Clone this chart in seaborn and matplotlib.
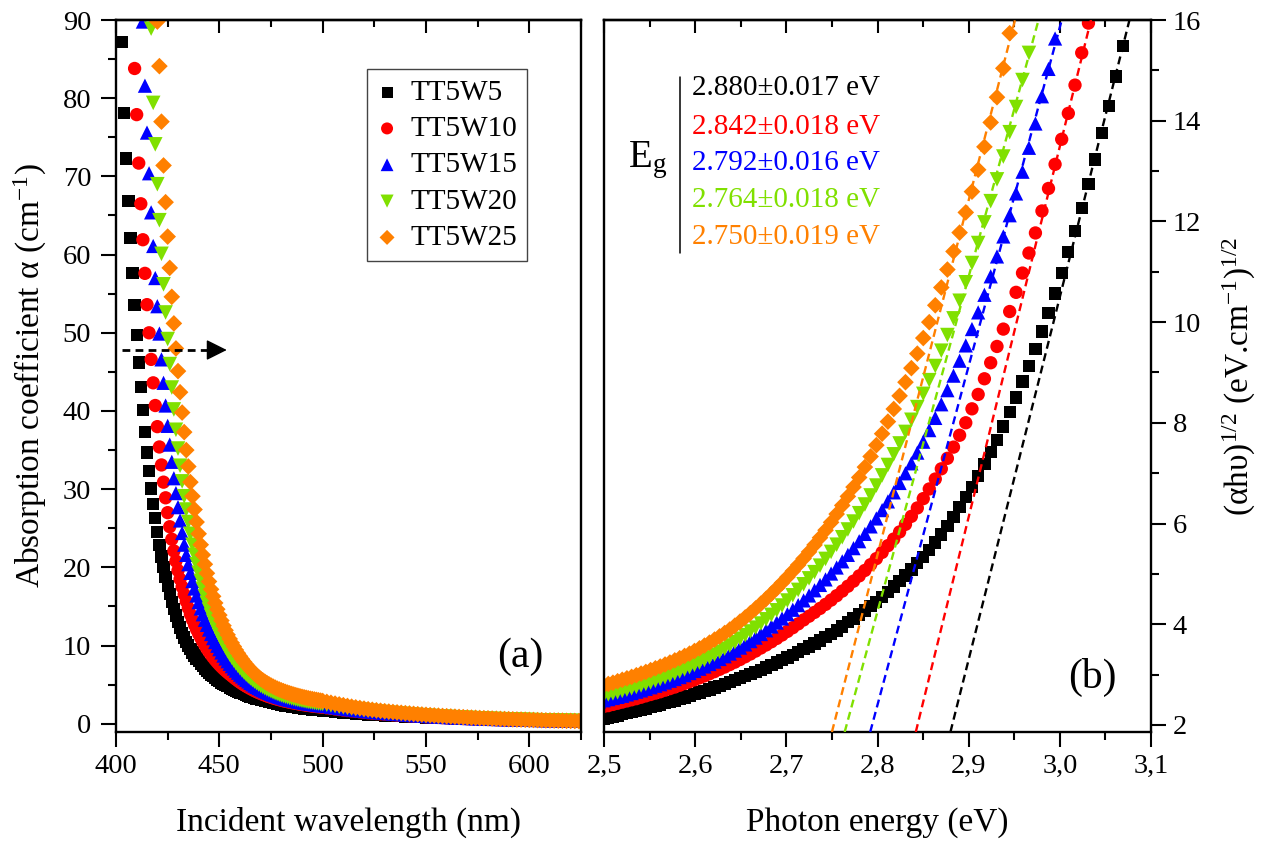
import numpy as np
import pandas as pd
import matplotlib
matplotlib.use("Agg")
import matplotlib.pyplot as plt
from matplotlib.ticker import MultipleLocator, FuncFormatter
import seaborn as sns

# Wavelength grid (nm): 1 nm steps up to 500 nm, 2 nm steps in the long tail.
wavelength_nm = list(range(400, 501)) + list(range(502, 625, 2))

samples = ["TT5W5", "TT5W10", "TT5W15", "TT5W20", "TT5W25"]
colors = ["#000000", "#FF0000", "#0000FF", "#80E000", "#FF8000"]
markers = ["s", "o", "^", "v", "D"]
marker_area = [78, 92, 105, 110, 72]

# Absorption coefficient alpha (cm^-1); each list ends at 624 nm.
alpha_tt5w5 = [
    87.2, 78.1, 72.3, 66.9, 62.1, 57.6, 53.6, 49.7, 46.2, 43.1,
    40.1, 37.3, 34.7, 32.3, 30.1, 28.1, 26.3, 24.5, 22.9, 21.4,
    20.05, 18.8, 17.65, 16.6, 15.6, 14.7, 13.85, 13.05, 12.3, 11.65,
    11.05, 10.5, 10.0, 9.55, 9.12, 8.72, 8.35, 8.0, 7.67, 7.36,
    7.07, 6.8, 6.55, 6.32, 6.1, 5.89, 5.66, 5.45, 5.27, 5.1,
    4.94, 4.79, 4.65, 4.51, 4.38, 4.25, 4.13, 4.01, 3.9, 3.79,
    3.69, 3.59, 3.5, 3.41, 3.32, 3.24, 3.16, 3.08, 3.01, 2.94,
    2.87, 2.8, 2.74, 2.68, 2.62, 2.56, 2.5, 2.45, 2.4, 2.35,
    2.3, 2.25, 2.21, 2.17, 2.13, 2.09, 2.05, 2.01, 1.97, 1.94,
    1.9, 1.87, 1.84, 1.81, 1.78, 1.75, 1.72, 1.69,
    1.64, 1.59, 1.54, 1.49, 1.44, 1.40, 1.36, 1.31, 1.27, 1.24,
    1.20, 1.16, 1.13, 1.10, 1.07, 1.04, 1.01, 0.98, 0.96, 0.93,
    0.91, 0.88, 0.86, 0.84, 0.82, 0.80, 0.78, 0.76, 0.74, 0.72,
    0.70, 0.68, 0.66, 0.65, 0.63, 0.62, 0.60, 0.59, 0.57, 0.56,
    0.55, 0.53, 0.52, 0.51, 0.50, 0.49, 0.47, 0.46, 0.45, 0.44,
    0.43, 0.42, 0.41, 0.40, 0.39, 0.38, 0.37, 0.36, 0.35, 0.34,
    0.33, 0.32,
]
alpha_tt5w10 = [
    83.8, 77.9, 71.7, 66.5, 61.9, 57.6, 53.6, 50.0, 46.6, 43.6,
    40.7, 38.0, 35.4, 33.1, 30.9, 28.9, 27.0, 25.2, 23.6, 22.1,
    20.8, 19.6, 18.5, 17.5, 16.55, 15.65, 14.8, 14.0, 13.3, 12.65,
    12.05, 11.5, 11.0, 10.5, 10.05, 9.62, 9.22, 8.85, 8.5, 8.17,
    7.86, 7.57, 7.3, 7.04, 6.8, 6.57, 6.35, 6.14, 5.92, 5.71,
    5.51, 5.32, 5.14, 4.97, 4.81, 4.66, 4.51, 4.37, 4.24, 4.11,
    3.99, 3.88, 3.77, 3.67, 3.57, 3.48, 3.39, 3.31, 3.23, 3.15,
    3.08, 3.01, 2.94, 2.88, 2.82, 2.76, 2.71, 2.66, 2.61, 2.56,
    2.51, 2.47, 2.43, 2.39, 2.35, 2.31, 2.27, 2.24, 2.21, 2.18,
    2.15, 2.12,
    2.04, 1.97, 1.90, 1.83, 1.76, 1.70, 1.64, 1.58, 1.52, 1.46,
    1.41, 1.36, 1.31, 1.27, 1.23, 1.19, 1.15, 1.11, 1.08, 1.05,
    1.01, 0.98, 0.95, 0.92, 0.89, 0.86, 0.84, 0.81, 0.79, 0.76,
    0.74, 0.72, 0.70, 0.68, 0.66, 0.64, 0.62, 0.61, 0.59, 0.57,
    0.56, 0.54, 0.53, 0.51, 0.50, 0.49, 0.48, 0.46, 0.45, 0.44,
    0.43, 0.42, 0.41, 0.40, 0.39, 0.38, 0.37, 0.36, 0.35, 0.35,
    0.34, 0.33,
]
alpha_tt5w15 = [
    89.8, 81.6, 75.6, 70.4, 65.4, 61.1, 57.0, 53.4, 49.9, 46.6,
    43.6, 40.7, 38.1, 35.7, 33.5, 31.4, 29.5, 27.7, 26.0, 24.4,
    22.9, 21.6, 20.4, 19.3, 18.25, 17.3, 16.4, 15.55, 14.75, 14.0,
    13.3, 12.65, 12.05, 11.48, 10.95, 10.45, 9.98, 9.54, 9.12, 8.72,
    8.35, 8.0, 7.67, 7.36, 7.07, 6.79, 6.53, 6.28, 6.05, 5.83,
    5.62, 5.42, 5.23, 5.05, 4.88, 4.72, 4.57, 4.43, 4.3, 4.17,
    4.05, 3.94, 3.83, 3.73, 3.63, 3.54, 3.45, 3.37, 3.29, 3.22,
    3.15, 3.08, 3.02, 2.96, 2.9, 2.84, 2.79, 2.74, 2.69, 2.64,
    2.6, 2.56, 2.52, 2.48, 2.44, 2.4, 2.37, 2.34,
    2.26, 2.18, 2.10, 2.03, 1.96, 1.89, 1.82, 1.76, 1.70, 1.64,
    1.58, 1.53, 1.48, 1.43, 1.39, 1.34, 1.30, 1.26, 1.22, 1.18,
    1.14, 1.10, 1.07, 1.03, 1.00, 0.97, 0.94, 0.91, 0.88, 0.86,
    0.83, 0.81, 0.78, 0.76, 0.74, 0.72, 0.70, 0.68, 0.66, 0.64,
    0.62, 0.61, 0.59, 0.58, 0.56, 0.55, 0.54, 0.52, 0.51, 0.50,
    0.49, 0.48, 0.47, 0.46, 0.45, 0.44, 0.43, 0.42, 0.41, 0.40,
    0.39, 0.38,
]
alpha_tt5w20 = [
    88.9, 79.4, 74.1, 69.0, 64.4, 60.1, 56.2, 52.6, 49.2, 46.0,
    43.0, 40.2, 37.6, 35.2, 33.0, 31.0, 29.1, 27.4, 25.8, 24.3,
    22.9, 21.6, 20.4, 19.3, 18.25, 17.25, 16.3, 15.4, 14.6, 13.85,
    13.15, 12.5, 11.88, 11.3, 10.75, 10.23, 9.74, 9.28, 8.85, 8.45,
    8.08, 7.73, 7.4, 7.09, 6.8, 6.53, 6.27, 6.03, 5.8, 5.59,
    5.39, 5.2, 5.02, 4.85, 4.69, 4.54, 4.4, 4.27, 4.15, 4.03,
    3.92, 3.82, 3.72, 3.63, 3.54, 3.46, 3.38, 3.31, 3.24, 3.17,
    3.11, 3.05, 2.99, 2.94, 2.89, 2.84, 2.79, 2.75, 2.71, 2.67,
    2.63, 2.59, 2.56, 2.53,
    2.44, 2.35, 2.26, 2.18, 2.10, 2.02, 1.95, 1.88, 1.81, 1.74,
    1.67, 1.61, 1.56, 1.51, 1.46, 1.41, 1.36, 1.32, 1.27, 1.23,
    1.19, 1.15, 1.11, 1.07, 1.03, 1.00, 0.97, 0.94, 0.91, 0.88,
    0.85, 0.82, 0.80, 0.77, 0.75, 0.73, 0.70, 0.68, 0.66, 0.64,
    0.62, 0.60, 0.59, 0.57, 0.55, 0.54, 0.52, 0.51, 0.49, 0.48,
    0.47, 0.45, 0.44, 0.43, 0.42, 0.41, 0.40, 0.39, 0.38, 0.37,
    0.36, 0.35,
]
alpha_tt5w25 = [
    89.8, 84.1, 77.0, 71.4, 66.7, 62.3, 58.3, 54.6, 51.2, 48.0,
    45.1, 42.4, 39.8, 37.3, 35.0, 32.9, 30.9, 29.1, 27.4, 25.8,
    24.3, 22.9, 21.6, 20.4, 19.25, 18.2, 17.2, 16.3, 15.45, 14.65,
    13.9, 13.2, 12.55, 11.95, 11.38, 10.85, 10.35, 9.88, 9.44, 9.02,
    8.63, 8.26, 7.91, 7.58, 7.27, 6.98, 6.7, 6.44, 6.2, 5.97,
    5.75, 5.56, 5.38, 5.21, 5.05, 4.9, 4.76, 4.63, 4.5, 4.39,
    4.28, 4.18, 4.08, 3.99, 3.9, 3.82, 3.74, 3.66, 3.59, 3.52,
    3.45, 3.39, 3.33, 3.27, 3.21, 3.16, 3.11, 3.06, 3.01, 2.96,
    2.92,
    2.80, 2.69, 2.58, 2.48, 2.38, 2.28, 2.19, 2.10, 2.02, 1.94,
    1.86, 1.79, 1.73, 1.67, 1.61, 1.56, 1.51, 1.46, 1.41, 1.36,
    1.32, 1.27, 1.23, 1.19, 1.15, 1.11, 1.07, 1.04, 1.00, 0.97,
    0.94, 0.91, 0.88, 0.85, 0.82, 0.79, 0.77, 0.74, 0.72, 0.70,
    0.67, 0.65, 0.63, 0.61, 0.59, 0.57, 0.55, 0.54, 0.52, 0.50,
    0.49, 0.47, 0.46, 0.44, 0.43, 0.42, 0.41, 0.40, 0.38, 0.37,
    0.36, 0.35,
]

# Optical band gaps from the Tauc extrapolation, and slopes of the linear fits
band_gap_ev = [2.880, 2.842, 2.792, 2.764, 2.750]
band_gap_err = [0.017, 0.018, 0.016, 0.018, 0.019]
fit_slope = [72.0, 73.6, 67.3, 66.5, 70.4]

HC_EV_NM = 1239.84
TAUC_YMIN, TAUC_YMAX = 1.86, 16.0

frames = []
for name, alpha in zip(samples, [alpha_tt5w5, alpha_tt5w10, alpha_tt5w15,
                                 alpha_tt5w20, alpha_tt5w25]):
    wl = np.array(wavelength_nm[-len(alpha):], dtype=float)
    a = np.array(alpha, dtype=float)
    energy = HC_EV_NM / wl
    frames.append(pd.DataFrame({"sample": name, "wavelength": wl, "alpha": a,
                                "energy": energy, "tauc": np.sqrt(a * energy)}))
df = pd.concat(frames, ignore_index=True)

sns.set_style("ticks")
plt.rcParams.update({
    "font.family": ["Liberation Serif", "DejaVu Serif"],
    "mathtext.fontset": "custom",
    "mathtext.rm": "Liberation Serif",
    "mathtext.it": "Liberation Serif:italic",
    "mathtext.bf": "Liberation Serif:bold",
    "axes.linewidth": 1.7,
    "axes.edgecolor": "black",
    "axes.labelcolor": "black",
    "xtick.color": "black",
    "ytick.color": "black",
    "text.color": "black",
})

fig = plt.figure(figsize=(12.66, 8.49), dpi=100)
ax1 = fig.add_axes([116 / 1266, 117 / 849, 465 / 1266, 712 / 849])
ax2 = fig.add_axes([604 / 1266, 117 / 849, 547 / 1266, 712 / 849])

TICK_FS = 20.5
LABEL_FS = 24


def style_axis(ax, xmaj, xmin, ymaj, ymin, yside):
    ax.xaxis.set_major_locator(MultipleLocator(xmaj))
    ax.xaxis.set_minor_locator(MultipleLocator(xmin))
    ax.yaxis.set_major_locator(MultipleLocator(ymaj))
    ax.yaxis.set_minor_locator(MultipleLocator(ymin))
    ax.tick_params(which="major", direction="out", length=10.8, width=1.5,
                   labelsize=TICK_FS, pad=5)
    ax.tick_params(which="minor", direction="out", length=5.8, width=1.5)
    ax.tick_params(axis="x", which="both", bottom=True, top=False)
    if yside == "left":
        ax.tick_params(axis="y", which="both", left=True, right=False,
                       labelleft=True, labelright=False, pad=7)
    else:
        ax.tick_params(axis="y", which="both", left=False, right=True,
                       labelleft=False, labelright=True, pad=5)
    top = ax.secondary_xaxis("top")
    top.xaxis.set_major_locator(MultipleLocator(xmaj))
    top.xaxis.set_minor_locator(MultipleLocator(xmin))
    top.tick_params(which="major", direction="in", length=9.5, width=1.5,
                    labeltop=False)
    top.tick_params(which="minor", direction="in", length=5.0, width=1.5)
    top.spines["top"].set_linewidth(1.7)
    for s in ax.spines.values():
        s.set_linewidth(1.7)
        s.set_color("black")


# ---- (a) absorption coefficient vs wavelength ----
for name, c, m, s in zip(samples, colors, markers, marker_area):
    sub = df[df["sample"] == name]
    sns.scatterplot(data=sub, x="wavelength", y="alpha", ax=ax1, marker=m,
                    s=s, color=c, linewidth=0, edgecolor="none", label=name)

ax1.set_xlim(400, 625)
ax1.set_ylim(-1.05, 90)
style_axis(ax1, 50, 25, 10, 5, "left")
ax1.set_xlabel("Incident wavelength (nm)", fontsize=LABEL_FS, labelpad=20)
ax1.set_ylabel("Absorption coefficient α (cm$^{\\mathregular{-1}}$)",
               fontsize=LABEL_FS, labelpad=10)

leg = ax1.legend(loc="upper left", bbox_to_anchor=(0.539, 0.931),
                 borderaxespad=0, fontsize=21, frameon=True, fancybox=False,
                 framealpha=1, edgecolor="#444444", handlelength=0.7,
                 handletextpad=0.45, borderpad=0.35, labelspacing=0.34,
                 markerscale=0.9)
leg.get_frame().set_linewidth(1.0)

# dashed arrow pointing towards panel (b)
ax1.plot([402.8, 447.0], [47.8, 47.8], color="black", lw=2.0,
         linestyle=(0, (2.8, 1.9)))
ax1.annotate("", xy=(453.6, 47.8), xytext=(446.0, 47.8),
             arrowprops=dict(arrowstyle="-|>", color="black", lw=1.0,
                             mutation_scale=32, shrinkA=0, shrinkB=0))
ax1.text(0.869, 0.105, "(a)", transform=ax1.transAxes, fontsize=30,
         ha="center", va="center")

# ---- (b) Tauc plot ----
for name, c, m, s in zip(samples, colors, markers, marker_area):
    sub = df[df["sample"] == name]
    sns.scatterplot(data=sub, x="energy", y="tauc", ax=ax2, marker=m, s=s,
                    color=c, linewidth=0, edgecolor="none", legend=False)

for eg, k, c in zip(band_gap_ev, fit_slope, colors):
    e_line = np.array([eg, eg + (TAUC_YMAX + 0.3 - TAUC_YMIN) / k])
    y_line = TAUC_YMIN + k * (e_line - eg)
    sns.lineplot(x=e_line, y=y_line, ax=ax2, color=c, lw=1.7,
                 linestyle=(0, (3.4, 2.0)), zorder=4)

ax2.set_xlim(2.5, 3.1)
ax2.set_ylim(TAUC_YMIN, TAUC_YMAX)
style_axis(ax2, 0.1, 0.05, 2, 1, "right")
ax2.xaxis.set_major_formatter(FuncFormatter(lambda v, p: f"{v:.1f}".replace(".", ",")))
ax2.set_xlabel("Photon energy (eV)", fontsize=LABEL_FS, labelpad=20)
ax2.yaxis.set_label_position("right")
ax2.set_ylabel("(αhυ)$^{\\mathregular{1/2}}$ (eV.cm$^{\\mathregular{-1}}$)$^{\\mathregular{1/2}}$",
               fontsize=LABEL_FS, rotation=90, labelpad=14)

ax2.text(0.080, 0.803, "E$_{\\mathregular{g}}$", transform=ax2.transAxes,
         fontsize=28, ha="center", va="center")
ax2.plot([0.139, 0.139], [0.673, 0.920], transform=ax2.transAxes,
         color="black", lw=1.1)
row_y = [0.9045, 0.8502, 0.7987, 0.7472, 0.6957]
for eg, err, c, y in zip(band_gap_ev, band_gap_err, colors, row_y):
    ax2.text(0.161, y, f"{eg:.3f}±{err:.3f} eV", transform=ax2.transAxes,
             fontsize=21, color=c, ha="left", va="center")
ax2.text(0.892, 0.077, "(b)", transform=ax2.transAxes, fontsize=30,
         ha="center", va="center")

fig.savefig("out.png", dpi=100)
